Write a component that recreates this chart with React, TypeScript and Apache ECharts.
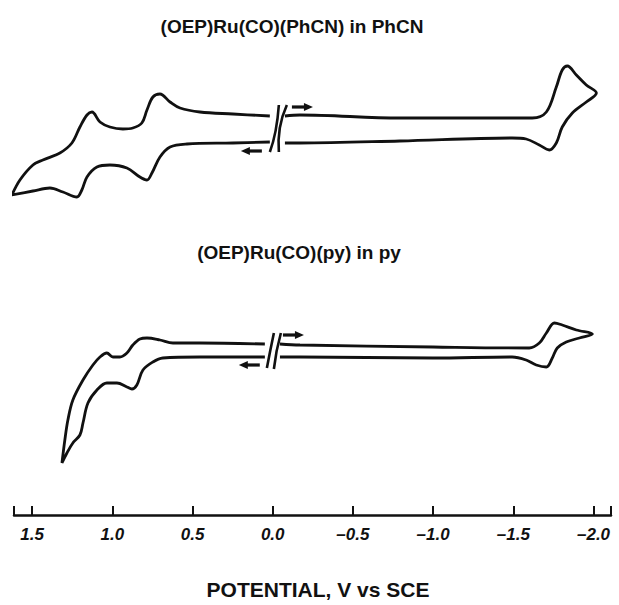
import { useEffect, useRef } from 'react';
import * as echarts from 'echarts';

// ---- text ----
const TITLE_TOP = '(OEP)Ru(CO)(PhCN) in PhCN';
const TITLE_BOTTOM = '(OEP)Ru(CO)(py) in py';
const X_TITLE = 'POTENTIAL, V vs SCE';

// ---- axis ----
const TICK_VALUES = [1.5, 1.0, 0.5, 0.0, -0.5, -1.0, -1.5, -2.0];
const AXIS_MIN = -2.109;
const AXIS_MAX = 1.613;

// ---- (OEP)Ru(CO)(PhCN) in PhCN : [potential V, current (arb.)] ----
// cathodic sweep from 0.0 V to -2.0 V and back (right of the axis break)
const phcnRight = [
  [-0.076, 14], [-0.17, 15], [-0.793, 12], [-1.416, 12], [-1.618, 12], [-1.706, 18],
  [-1.768, 43], [-1.805, 60], [-1.837, 64], [-1.893, 55], [-1.955, 45], [-2.018, 37],
  [-1.955, 28], [-1.868, 17], [-1.805, 3], [-1.768, -13], [-1.724, -20], [-1.662, -15],
  [-1.58, -9], [-1.493, -8], [-0.793, -11], [-0.17, -13], [-0.076, -13],
];
// anodic sweep from 0.0 V to +1.6 V and back (left of the axis break)
const phcnLeft = [
  [0.018, -12], [0.248, -13], [0.535, -14], [0.64, -17], [0.703, -27], [0.753, -43],
  [0.784, -50], [0.828, -47], [0.909, -38], [1.015, -35], [1.096, -37], [1.158, -47],
  [1.19, -60], [1.221, -67], [1.308, -62], [1.389, -58], [1.495, -61], [1.626, -65],
  [1.576, -50], [1.495, -35], [1.433, -30], [1.327, -23], [1.252, -13], [1.202, 3],
  [1.158, 15], [1.127, 18], [1.077, 8], [1.015, 3], [0.934, 1], [0.872, 2],
  [0.816, 7], [0.784, 20], [0.747, 33], [0.703, 36], [0.64, 28], [0.578, 22],
  [0.454, 18], [0.248, 16], [0.018, 14],
];

// ---- (OEP)Ru(CO)(py) in py ----
const pyRight = [
  [-0.045, 6], [-0.17, 5], [-0.999, 3], [-1.599, 2], [-1.662, 7], [-1.706, 17],
  [-1.756, 27], [-1.805, 25], [-1.893, 20], [-1.993, 16], [-1.912, 12], [-1.83, 8],
  [-1.774, 2], [-1.743, -8], [-1.706, -17], [-1.643, -15], [-1.58, -10], [-1.493, -7],
  [-0.999, -8], [-0.17, -7], [-0.045, -7],
];
const pyLeft = [
  [0.049, -7], [0.454, -7], [0.685, -8], [0.747, -12], [0.809, -20], [0.847, -35],
  [0.878, -39], [0.909, -37], [0.971, -33], [1.034, -33], [1.096, -40], [1.152, -53],
  [1.183, -73], [1.202, -85], [1.246, -93], [1.283, -103], [1.314, -113], [1.296, -90],
  [1.277, -70], [1.246, -50], [1.183, -30], [1.121, -15], [1.077, -7], [1.034, -3],
  [0.996, -7], [0.953, -7], [0.909, -3], [0.872, 5], [0.828, 11], [0.784, 12],
  [0.703, 10], [0.622, 7], [0.454, 7], [0.049, 6],
];

// annotations: [potential, current, kind]  kind 0 = arrow →, 1 = arrow ←, 2 = curved break, 3 = slanted break
const phcnMarks = [[-0.182, 23, 0], [0.13, -21, 1], [-0.032, 1, 2]];
const pyMarks = [[-0.126, 15, 0], [0.143, -15, 1], [-0.001, -1, 3]];

const FONT = "'Liberation Sans', Arial, Helvetica, sans-serif";
const INK = '#111';

function renderMark(params: any, api: any) {
  const kind = api.value(2);
  const p = api.coord([api.value(0), api.value(1)]);
  const x = p[0];
  const y = p[1];
  if (kind === 0 || kind === 1) {
    const d = kind === 0 ? 1 : -1;
    return {
      type: 'group',
      children: [
        { type: 'line', shape: { x1: x - 10 * d, y1: y, x2: x + 4 * d, y2: y }, style: { stroke: INK, lineWidth: 3.2 } },
        { type: 'polygon', shape: { points: [[x + 2 * d, y - 4], [x + 11 * d, y], [x + 2 * d, y + 4]] }, style: { fill: INK } },
      ],
    };
  }
  const st = { stroke: INK, lineWidth: 2.6, fill: 'none' };
  if (kind === 2) {
    return {
      type: 'group',
      children: [
        { type: 'bezierCurve', shape: { x1: x + 1, y1: y - 24, x2: x - 8, y2: y + 23, cpx1: x - 1, cpy1: y + 4 }, style: st },
        { type: 'bezierCurve', shape: { x1: x + 9, y1: y - 24, x2: x + 1, y2: y + 23, cpx1: x - 1, cpy1: y - 2 }, style: st },
      ],
    };
  }
  return {
    type: 'group',
    children: [
      { type: 'bezierCurve', shape: { x1: x + 1, y1: y - 18, x2: x - 6, y2: y + 17, cpx1: x - 3, cpy1: y + 1 }, style: st },
      { type: 'bezierCurve', shape: { x1: x + 8, y1: y - 18, x2: x + 1, y2: y + 18, cpx1: x + 3, cpy1: y }, style: st },
    ],
  };
}

function fmt(v: number) {
  const s = Math.abs(v).toFixed(1);
  return v < 0 ? '\u2013' + s : s;
}

export default function App() {
  const ref = useRef<HTMLDivElement>(null);
  useEffect(() => {
    if (!ref.current) return;
    const chart = echarts.init(ref.current, undefined, { renderer: 'svg' });
    const lineBase = {
      type: 'line',
      showSymbol: false,
      symbol: 'none',
      smooth: 0.35,
      clip: false,
      lineStyle: { color: INK, width: 2.8 },
      silent: true,
    };
    chart.setOption({
      animation: false,
      backgroundColor: '#fff',
      grid: [
        { left: 14, right: 8, top: 40, height: 175 },
        { left: 14, right: 8, top: 290, bottom: 90 },
      ],
      xAxis: [
        { type: 'value', gridIndex: 0, min: AXIS_MIN, max: AXIS_MAX, inverse: true, show: false },
        {
          type: 'value', gridIndex: 1, min: AXIS_MIN, max: AXIS_MAX, inverse: true,
          axisLine: { show: true, onZero: false, lineStyle: { color: INK, width: 2.5 } },
          axisTick: { show: true, inside: true, length: 9, lineStyle: { color: INK, width: 2 }, customValues: [AXIS_MAX, ...TICK_VALUES, AXIS_MIN] },
          axisLabel: {
            customValues: TICK_VALUES, formatter: fmt, margin: 11,
            color: INK, fontFamily: FONT, fontWeight: 'bold', fontStyle: 'italic', fontSize: 17,
          },
          splitLine: { show: false },
        },
      ],
      yAxis: [
        { type: 'value', gridIndex: 0, min: -85, max: 90, show: false },
        { type: 'value', gridIndex: 1, min: -165, max: 60, show: false },
      ],
      graphic: [
        { type: 'text', x: 292, y: 26, style: { text: TITLE_TOP, fill: INK, font: `bold 19px ${FONT}`, textAlign: 'center', textVerticalAlign: 'middle' } },
        { type: 'text', x: 299, y: 252, style: { text: TITLE_BOTTOM, fill: INK, font: `bold 19px ${FONT}`, textAlign: 'center', textVerticalAlign: 'middle' } },
        { type: 'text', x: 318, y: 589, style: { text: X_TITLE, fill: INK, font: `bold 21px ${FONT}`, textAlign: 'center', textVerticalAlign: 'middle' } },
      ],
      series: [
        { ...lineBase, xAxisIndex: 0, yAxisIndex: 0, data: phcnRight },
        { ...lineBase, xAxisIndex: 0, yAxisIndex: 0, data: phcnLeft },
        { ...lineBase, xAxisIndex: 1, yAxisIndex: 1, data: pyRight },
        { ...lineBase, xAxisIndex: 1, yAxisIndex: 1, data: pyLeft },
        { type: 'custom', xAxisIndex: 0, yAxisIndex: 0, data: phcnMarks, renderItem: renderMark, clip: false, silent: true },
        { type: 'custom', xAxisIndex: 1, yAxisIndex: 1, data: pyMarks, renderItem: renderMark, clip: false, silent: true },
      ],
    });
    return () => chart.dispose();
  }, []);
  return <div ref={ref} style={{ position: 'fixed', left: 0, top: 0, width: 619, height: 605 }} />;
}
